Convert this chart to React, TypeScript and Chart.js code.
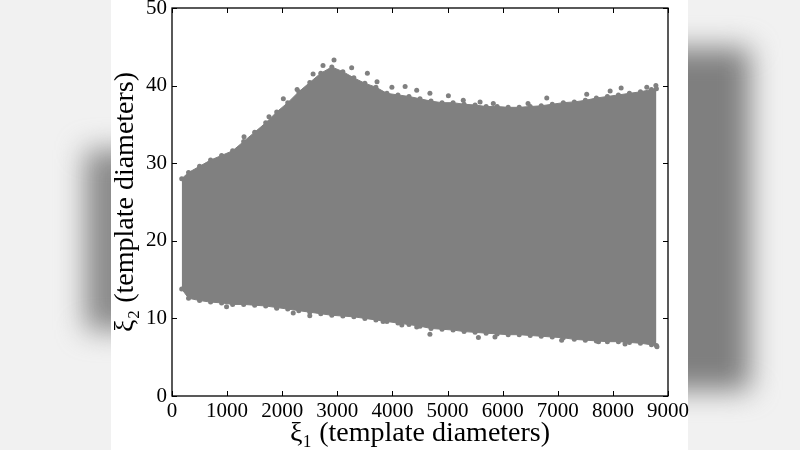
import React, { useEffect, useRef } from "react";
import { Chart, registerables } from "chart.js";
Chart.register(...registerables);

// Envelope of the dense scatter cloud (xi1 positions and the upper / lower edge of xi2)
const edgeX = [176, 300, 500, 700, 900, 1100, 1300, 1500, 1700, 1900, 2100, 2300, 2500, 2700, 2900, 3100, 3300, 3500, 3700, 3900, 4100, 4300, 4500, 4700, 4900, 5100, 5300, 5500, 5700, 5900, 6100, 6300, 6500, 6700, 6900, 7100, 7300, 7500, 7700, 7900, 8100, 8300, 8500, 8700, 8790];
const upperY = [28.0, 28.8, 29.6, 30.4, 31.0, 31.6, 32.8, 34.0, 35.2, 36.6, 37.8, 39.2, 40.4, 41.6, 42.4, 41.8, 41.0, 40.3, 39.8, 39.0, 38.8, 38.6, 38.3, 38.0, 37.8, 37.8, 37.6, 37.5, 37.3, 37.3, 37.2, 37.2, 37.3, 37.4, 37.6, 37.8, 37.9, 38.1, 38.4, 38.6, 38.8, 39.0, 39.2, 39.5, 39.6];
const lowerY = [13.8, 12.6, 12.3, 12.1, 12.0, 11.8, 11.8, 11.7, 11.6, 11.4, 11.2, 11.0, 10.8, 10.6, 10.4, 10.3, 10.2, 10.0, 9.8, 9.6, 9.4, 9.2, 9.0, 8.7, 8.6, 8.5, 8.3, 8.2, 8.1, 8.0, 7.9, 7.9, 7.8, 7.7, 7.6, 7.5, 7.3, 7.2, 7.1, 7.0, 7.0, 6.9, 6.8, 6.6, 6.5];

// Isolated points outside the dense edge
const outlierX = [1307, 1760, 2020, 2270, 2560, 2740, 2940, 3260, 3545, 3720, 3990, 4230, 4440, 4680, 5015, 5285, 5590, 5830, 6460, 6800, 7525, 7950, 8150, 8615, 8780, 990, 1900, 2200, 2500, 3830, 4170, 4440, 4680, 5560, 5860, 7070, 7740, 8220, 8800];
const outlierY = [33.4, 36.0, 38.3, 39.5, 41.5, 42.6, 43.3, 42.3, 41.6, 40.5, 39.8, 39.9, 39.4, 39.0, 38.7, 38.1, 37.9, 37.7, 37.7, 38.4, 38.9, 39.3, 39.7, 39.8, 40.0, 11.5, 11.3, 10.7, 10.35, 9.6, 9.15, 8.9, 7.95, 7.55, 7.6, 7.2, 7.0, 6.7, 6.35];

const xTicks = [0, 1000, 2000, 3000, 4000, 5000, 6000, 7000, 8000, 9000];
const yTicks = [0, 10, 20, 30, 40, 50];
const xTitle = "ξ₁ (template diameters)";
const yTitle = "ξ₂ (template diameters)";

const GRAY = "#808080";
const FONT = "'Liberation Serif', 'DejaVu Serif', serif";

const framePlugin = {
  id: "frame",
  afterDatasetsDraw(chart: any) {
    const { ctx, chartArea: a, scales } = chart;
    ctx.save();
    ctx.strokeStyle = "#000";
    ctx.lineWidth = 1;
    ctx.beginPath();
    for (const v of xTicks) {
      const px = Math.round(scales.x.getPixelForValue(v)) + 0.5;
      ctx.moveTo(px, a.bottom);
      ctx.lineTo(px, a.bottom - 5);
      ctx.moveTo(px, a.top);
      ctx.lineTo(px, a.top + 5);
    }
    for (const v of yTicks) {
      const py = Math.round(scales.y.getPixelForValue(v)) + 0.5;
      ctx.moveTo(a.left, py);
      ctx.lineTo(a.left + 5, py);
      ctx.moveTo(a.right, py);
      ctx.lineTo(a.right - 5, py);
    }
    ctx.stroke();
    ctx.lineWidth = 1.3;
    ctx.strokeRect(a.left, a.top, a.right - a.left, a.bottom - a.top);
    ctx.restore();
  },
};

export default function App() {
  const ref = useRef<HTMLCanvasElement | null>(null);

  useEffect(() => {
    if (!ref.current) return;
    const edgeStyle = {
      borderColor: GRAY,
      borderWidth: 1,
      pointRadius: 2.5,
      pointBackgroundColor: GRAY,
      pointBorderWidth: 0,
      tension: 0,
    };
    const chart = new Chart(ref.current, {
      type: "line",
      data: {
        datasets: [
          {
            ...edgeStyle,
            data: edgeX.map((x, i) => ({ x, y: lowerY[i] })),
            fill: false,
          },
          {
            ...edgeStyle,
            data: edgeX.map((x, i) => ({ x, y: upperY[i] })),
            fill: "-1",
            backgroundColor: GRAY,
          },
          {
            data: outlierX.map((x, i) => ({ x, y: outlierY[i] })),
            showLine: false,
            pointRadius: 2.5,
            pointBackgroundColor: GRAY,
            pointBorderWidth: 0,
            borderColor: GRAY,
          },
        ],
      },
      options: {
        animation: false,
        responsive: false,
        devicePixelRatio: 1,
        layout: { padding: { left: 0, top: 8, right: 132, bottom: 0 } },
        plugins: { legend: { display: false }, tooltip: { enabled: false } },
        scales: {
          x: {
            type: "linear",
            min: 0,
            max: 9000,
            afterBuildTicks: (s: any) => {
              s.ticks = xTicks.map((v) => ({ value: v }));
            },
            ticks: {
              color: "#000",
              font: { family: FONT, size: 21 },
              padding: 3,
              maxRotation: 0,
              autoSkip: false,
              callback: (v: any) => String(v),
            },
            grid: { display: false, drawTicks: false },
            border: { display: false },
            title: {
              display: true,
              text: xTitle,
              color: "#000",
              font: { family: FONT, size: 28, lineHeight: 1.2 },
              padding: { top: 0, bottom: 0 },
            },
            afterFit: (s: any) => {
              s.height = 54;
              s.paddingLeft = 0;
              s.paddingRight = 0;
            },
          },
          y: {
            type: "linear",
            min: 0,
            max: 50,
            afterBuildTicks: (s: any) => {
              s.ticks = yTicks.map((v) => ({ value: v }));
            },
            ticks: {
              color: "#000",
              font: { family: FONT, size: 21 },
              padding: 5,
              autoSkip: false,
              callback: (v: any) => String(v),
            },
            grid: { display: false, drawTicks: false },
            border: { display: false },
            title: {
              display: true,
              text: yTitle,
              color: "#000",
              font: { family: FONT, size: 28, lineHeight: 1.2 },
              padding: { top: 109, bottom: 0 },
            },
            afterFit: (s: any) => {
              s.width = 172;
              s.paddingTop = 0;
              s.paddingBottom = 0;
            },
          },
        },
      },
      plugins: [framePlugin],
    } as any);
    return () => chart.destroy();
  }, []);

  return (
    <div
      style={{
        position: "absolute",
        left: 0,
        top: 0,
        width: 800,
        height: 450,
        overflow: "hidden",
        background: "#f1f1f1",
      }}
    >
      <div style={{ position: "absolute", left: 85, top: 150, width: 60, height: 180, background: "#8a8a8a", filter: "blur(14px)" }} />
      <div style={{ position: "absolute", left: 650, top: 48, width: 100, height: 342, background: "#7f7f7f", filter: "blur(14px)" }} />
      <div style={{ position: "absolute", left: 111, top: 0, width: 577, height: 450, background: "#fff" }} />
      <canvas
        ref={ref}
        width={800}
        height={450}
        style={{ position: "absolute", left: 0, top: 0, width: 800, height: 450, display: "block" }}
      />
    </div>
  );
}
